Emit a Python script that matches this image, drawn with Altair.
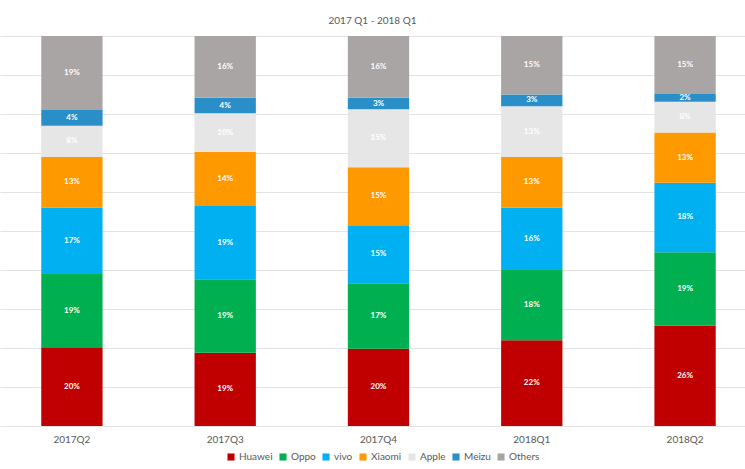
import altair as alt
import pandas as pd

quarters = ["2017Q2", "2017Q3", "2017Q4", "2018Q1", "2018Q2"]
brands = ["Huawei", "Oppo", "vivo", "Xiaomi", "Apple", "Meizu", "Others"]
colors = ["#C00000", "#00B050", "#00B0F0", "#FF9900", "#E7E6E6", "#2A8FC9", "#A9A5A5"]

huawei = [20, 19, 20, 22, 26]
oppo = [19, 19, 17, 18, 19]
vivo = [17, 19, 15, 16, 18]
xiaomi = [13, 14, 15, 13, 13]
apple = [8, 10, 15, 13, 8]
meizu = [4, 4, 3, 3, 2]
others = [19, 16, 16, 15, 15]

series = [huawei, oppo, vivo, xiaomi, apple, meizu, others]
rows = []
for bi, (b, vals) in enumerate(zip(brands, series)):
    for q, v in zip(quarters, vals):
        rows.append({"quarter": q, "brand": b, "value": v, "order": bi,
                     "label": f"{v}%"})
df = pd.DataFrame(rows)

font = "Lato"
grid_values = [i / 10 for i in range(11)]

base = alt.Chart(df).transform_stack(
    stack="value", groupby=["quarter"], as_=["y0", "y1"],
    sort=[alt.SortField("order", order="ascending")], offset="normalize"
).transform_calculate(mid="(datum.y0 + datum.y1) / 2")

yaxis = alt.Axis(labels=False, ticks=False, domain=False, values=grid_values,
                 gridColor="#E3E3E3", gridWidth=1)

xenc = alt.X("quarter:N", sort=quarters, title=None,
             scale=alt.Scale(paddingInner=0.6, paddingOuter=0.23, align=0.585),
             axis=alt.Axis(labelAngle=0, ticks=False, domain=False, labelPadding=8,
                           labelFontSize=10, labelColor="#595959", labelFont=font))

bars = base.mark_bar().encode(
    x=xenc,
    y=alt.Y("y0:Q", scale=alt.Scale(domain=[0, 1]), title=None, axis=yaxis),
    y2="y1:Q",
    color=alt.Color("brand:N", sort=brands,
                    scale=alt.Scale(domain=brands, range=colors),
                    legend=alt.Legend(title=None, orient="none", direction="horizontal",
                                      legendX=226, legendY=416,
                                      symbolType="square", symbolSize=50,
                                      symbolStrokeWidth=0,
                                      labelFontSize=10, labelColor="#595959",
                                      labelFont=font, columnPadding=5,
                                      symbolOffset=0, labelOffset=3)),
)

texts = base.mark_text(color="white", fontSize=8, fontWeight="bold", font=font).encode(
    x=alt.X("quarter:N", sort=quarters),
    y=alt.Y("mid:Q", scale=alt.Scale(domain=[0, 1]), title=None, axis=yaxis),
    text="label:N",
)

chart = (bars + texts).properties(
    width=745, height=390,
    title=alt.TitleParams("2017 Q1 - 2018 Q1", fontSize=10, color="#595959",
                          font=font, fontWeight="normal", offset=10),
    autosize=alt.AutoSizeParams(type="none"),
    padding={"top": 36, "left": 0, "right": 0, "bottom": 43},
).configure_view(stroke=None)

chart.save("out.html", embed_options={"renderer": "svg", "actions": False})
